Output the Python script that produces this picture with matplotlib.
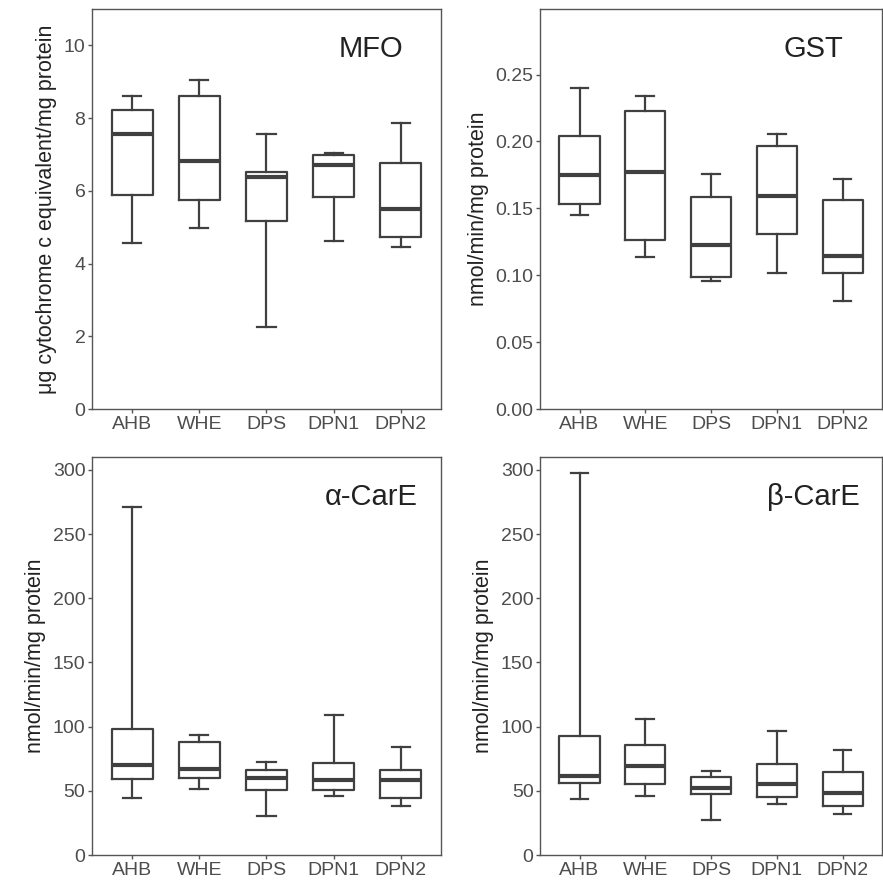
import matplotlib
matplotlib.use("Agg")
import matplotlib.pyplot as plt

plt.rcParams['font.family'] = ['Liberation Sans', 'DejaVu Sans']

groups = ["AHB", "WHE", "DPS", "DPN1", "DPN2"]

# whisker low, Q1, median, Q3, whisker high
mfo_low = [4.56, 4.98, 2.25, 4.63, 4.46]
mfo_q1 = [5.89, 5.75, 5.17, 5.83, 4.72]
mfo_med = [7.55, 6.83, 6.38, 6.70, 5.50]
mfo_q3 = [8.23, 8.61, 6.53, 6.99, 6.76]
mfo_high = [8.62, 9.06, 7.55, 7.05, 7.87]

gst_low = [0.145, 0.114, 0.0954, 0.1016, 0.0809]
gst_q1 = [0.1533, 0.1266, 0.0989, 0.1309, 0.1019]
gst_med = [0.1748, 0.1773, 0.1229, 0.1593, 0.1144]
gst_q3 = [0.2040, 0.2225, 0.1586, 0.1966, 0.1566]
gst_high = [0.2398, 0.2340, 0.1756, 0.2055, 0.1721]

acare_low = [44.7, 51.4, 30.7, 45.7, 38.2]
acare_q1 = [58.9, 60.2, 50.6, 50.9, 44.4]
acare_med = [70.0, 67.1, 59.6, 58.1, 58.1]
acare_q3 = [97.9, 88.0, 66.1, 72.0, 66.4]
acare_high = [270.9, 93.2, 72.6, 108.7, 84.2]

bcare_low = [43.9, 45.7, 27.6, 39.5, 32.3]
bcare_q1 = [56.0, 55.3, 47.3, 45.2, 38.0]
bcare_med = [61.5, 69.5, 51.9, 55.5, 48.5]
bcare_q3 = [92.7, 85.7, 60.7, 70.5, 64.8]
bcare_high = [297.4, 105.6, 65.3, 96.3, 81.8]

line_col = "#404040"
text_col = "#4d4d4d"


def make_stats(low, q1, med, q3, high):
    return [dict(whislo=a, q1=b, med=c, q3=d, whishi=e, fliers=[])
            for a, b, c, d, e in zip(low, q1, med, q3, high)]


def draw_panel(ax, stats, title, ylabel, ylim, yticks, ytick_labels):
    ax.bxp(stats, positions=range(1, len(groups) + 1), widths=0.61,
           showfliers=False, capwidths=0.27,
           boxprops=dict(color=line_col, linewidth=1.6),
           whiskerprops=dict(color=line_col, linewidth=1.6),
           capprops=dict(color=line_col, linewidth=1.6),
           medianprops=dict(color=line_col, linewidth=3.0, solid_capstyle='butt'))
    ax.set_xlim(0.4, 5.6)
    ax.set_ylim(*ylim)
    ax.set_xticks(range(1, len(groups) + 1))
    ax.set_xticklabels(groups)
    ax.set_yticks(yticks)
    ax.set_yticklabels(ytick_labels)
    ax.tick_params(axis='both', direction='out', length=3.2, width=1.0,
                   color="#555555", labelsize=14, labelcolor=text_col, pad=1.5)
    for s in ax.spines.values():
        s.set_color("#555555")
        s.set_linewidth(1.0)
    ax.set_ylabel(ylabel, fontsize=15.5, color="#222222", labelpad=5)
    ax.text(0.80, 0.90, title, transform=ax.transAxes, fontsize=21,
            color="#222222", ha='center', va='center')


fig = plt.figure(figsize=(8.83, 8.84), dpi=100)
ax1 = fig.add_axes([0.1042, 0.5373, 0.3952, 0.4525])
ax2 = fig.add_axes([0.6116, 0.5373, 0.3873, 0.4525])
ax3 = fig.add_axes([0.1042, 0.0328, 0.3952, 0.4502])
ax4 = fig.add_axes([0.6116, 0.0328, 0.3873, 0.4502])

draw_panel(ax1, make_stats(mfo_low, mfo_q1, mfo_med, mfo_q3, mfo_high),
           "MFO", "μg cytochrome c equivalent/mg protein", (0, 11),
           [0, 2, 4, 6, 8, 10], ["0", "2", "4", "6", "8", "10"])
draw_panel(ax2, make_stats(gst_low, gst_q1, gst_med, gst_q3, gst_high),
           "GST", "nmol/min/mg protein", (0, 0.299),
           [0, 0.05, 0.10, 0.15, 0.20, 0.25],
           ["0.00", "0.05", "0.10", "0.15", "0.20", "0.25"])
draw_panel(ax3, make_stats(acare_low, acare_q1, acare_med, acare_q3, acare_high),
           "α-CarE", "nmol/min/mg protein", (0, 310),
           [0, 50, 100, 150, 200, 250, 300],
           ["0", "50", "100", "150", "200", "250", "300"])
draw_panel(ax4, make_stats(bcare_low, bcare_q1, bcare_med, bcare_q3, bcare_high),
           "β-CarE", "nmol/min/mg protein", (0, 310),
           [0, 50, 100, 150, 200, 250, 300],
           ["0", "50", "100", "150", "200", "250", "300"])

fig.savefig("out.png", dpi=100)
